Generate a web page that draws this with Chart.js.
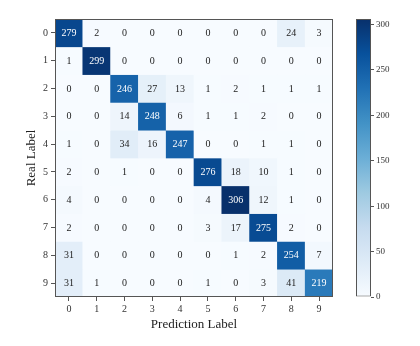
<!DOCTYPE html>
<html>
<head>
<meta charset="utf-8">
<script src="https://cdn.jsdelivr.net/npm/chart.js@4.4.1/dist/chart.umd.min.js"></script>
<style>
  body { margin:0; background:#fff; }
  #wrap { position:relative; width:420px; height:346px; }
  canvas { position:absolute; top:0; }
  #cm { left:0; }
  #cb { left:340px; }
</style>
</head>
<body>
<div id="wrap">
  <canvas id="cm" width="420" height="346"></canvas>
  <canvas id="cb" width="80" height="346"></canvas>
</div>
<script>
// ---- Data ----
const rowLabels = ['0','1','2','3','4','5','6','7','8','9'];
const colLabels = ['0','1','2','3','4','5','6','7','8','9'];
const counts = [
  [279,   2,   0,   0,   0,   0,   0,   0,  24,   3],
  [  1, 299,   0,   0,   0,   0,   0,   0,   0,   0],
  [  0,   0, 246,  27,  13,   1,   2,   1,   1,   1],
  [  0,   0,  14, 248,   6,   1,   1,   2,   0,   0],
  [  1,   0,  34,  16, 247,   0,   0,   1,   1,   0],
  [  2,   0,   1,   0,   0, 276,  18,  10,   1,   0],
  [  4,   0,   0,   0,   0,   4, 306,  12,   1,   0],
  [  2,   0,   0,   0,   0,   3,  17, 275,   2,   0],
  [ 31,   0,   0,   0,   0,   0,   1,   2, 254,   7],
  [ 31,   1,   0,   0,   0,   1,   0,   3,  41, 219],
];
const cbTicks = [0, 50, 100, 150, 200, 250, 300];
const cbMax   = 306;

// ---- Colormap (matplotlib Blues) ----
const BLUES = ['#f7fbff','#deebf7','#c6dbef','#9ecae1','#6baed6','#4292c6','#2171b5','#08519c','#08306b'];
const hex2rgb = h => [1,3,5].map(i => parseInt(h.substr(i,2),16));
function blues(t) {
  t = Math.max(0, Math.min(1, t));
  const p = t * (BLUES.length - 1);
  const i = Math.min(Math.floor(p), BLUES.length - 2);
  const f = p - i;
  const a = hex2rgb(BLUES[i]), b = hex2rgb(BLUES[i+1]);
  const c = a.map((v,k) => Math.round(v + (b[k]-v)*f));
  return `rgb(${c[0]},${c[1]},${c[2]})`;
}

const SERIF = "'Liberation Serif', 'DejaVu Serif', serif";
const FRAME = '#555';

// ---- Cell labels + frame ----
const cellText = {
  id: 'cellText',
  afterDatasetsDraw(chart) {
    const {ctx, scales:{x, y}, chartArea:a} = chart;
    ctx.save();
    ctx.font = `10px ${SERIF}`;
    ctx.textAlign = 'center';
    ctx.textBaseline = 'middle';
    counts.forEach((row, r) => row.forEach((v, c) => {
      ctx.fillStyle = v > cbMax / 2 ? '#fff' : '#222';
      ctx.fillText(String(v), x.getPixelForValue(c), y.getPixelForValue(r + 0.5) + 0.5);
    }));
    ctx.strokeStyle = FRAME;
    ctx.lineWidth = 1;
    ctx.strokeRect(Math.round(a.left) + 0.5, Math.round(a.top) + 0.5,
                   Math.round(a.right - a.left) - 1, Math.round(a.bottom - a.top) - 1);
    ctx.restore();
  }
};

// ---- Confusion matrix ----
new Chart(document.getElementById('cm'), {
  type: 'bar',
  data: {
    labels: colLabels,
    datasets: rowLabels.map((_, r) => ({
      data: colLabels.map(() => [r, r + 1]),
      backgroundColor: counts[r].map(v => blues(v / cbMax)),
      borderWidth: 0,
      grouped: false,
      barPercentage: 1,
      categoryPercentage: 1,
    })),
  },
  options: {
    responsive: false,
    animation: false,
    layout: { padding: { top: 19, right: 87, left: 0, bottom: 0 } },
    plugins: { legend: { display:false }, tooltip: { enabled:false } },
    scales: {
      x: {
        type: 'category',
        grid: { offset:false, drawOnChartArea:false, tickLength:4, color:FRAME },
        border: { display:false },
        ticks: { font:{ family:SERIF, size:10 }, color:'#333', padding:2 },
        title: { display:true, text:'Prediction Label', font:{ family:SERIF, size:13 }, color:'#222', padding:{ top:0, bottom:14 } },
        afterFit: s => { s.height = 49; },
      },
      y: {
        type: 'linear',
        reverse: true,
        min: 0, max: 10,
        afterBuildTicks: s => { s.ticks = rowLabels.map((_, i) => ({ value: i + 0.5 })); },
        grid: { drawOnChartArea:false, tickLength:4, color:FRAME },
        border: { display:false },
        ticks: { font:{ family:SERIF, size:10 }, color:'#333', padding:3, callback: v => rowLabels[Math.floor(v)] },
        title: { display:true, text:'Real Label', font:{ family:SERIF, size:13 }, color:'#222', padding:{ top:24, bottom:0 } },
        afterFit: s => { s.width = 55; },
      },
    },
  },
  plugins: [cellText],
});

// ---- Colorbar ----
function cbGradient(ctx) {
  const a = ctx.chart.chartArea;
  if (!a) return BLUES[4];
  const g = ctx.chart.ctx.createLinearGradient(0, a.bottom, 0, a.top);
  BLUES.forEach((c, i) => g.addColorStop(i / (BLUES.length - 1), c));
  return g;
}

new Chart(document.getElementById('cb'), {
  type: 'bar',
  data: {
    labels: [''],
    datasets: [{
      data: [[0, cbMax]],
      backgroundColor: cbGradient,
      borderColor: FRAME,
      borderWidth: 1,
      borderSkipped: false,
      barPercentage: 1,
      categoryPercentage: 1,
      inflateAmount: 0,
    }],
  },
  options: {
    responsive: false,
    animation: false,
    layout: { padding: { top: 19, left: 16, right: 0, bottom: 49 } },
    plugins: { legend: { display:false }, tooltip: { enabled:false } },
    scales: {
      x: { display:false },
      y: {
        position: 'right',
        min: 0, max: cbMax,
        afterBuildTicks: s => { s.ticks = cbTicks.map(v => ({ value: v })); },
        grid: { drawOnChartArea:false, tickLength:3, color:FRAME },
        border: { display:false },
        ticks: { font:{ family:SERIF, size:9 }, color:'#333', padding:2 },
        afterFit: s => { s.width = 49; },
      },
    },
  },
});
</script>
</body>
</html>
